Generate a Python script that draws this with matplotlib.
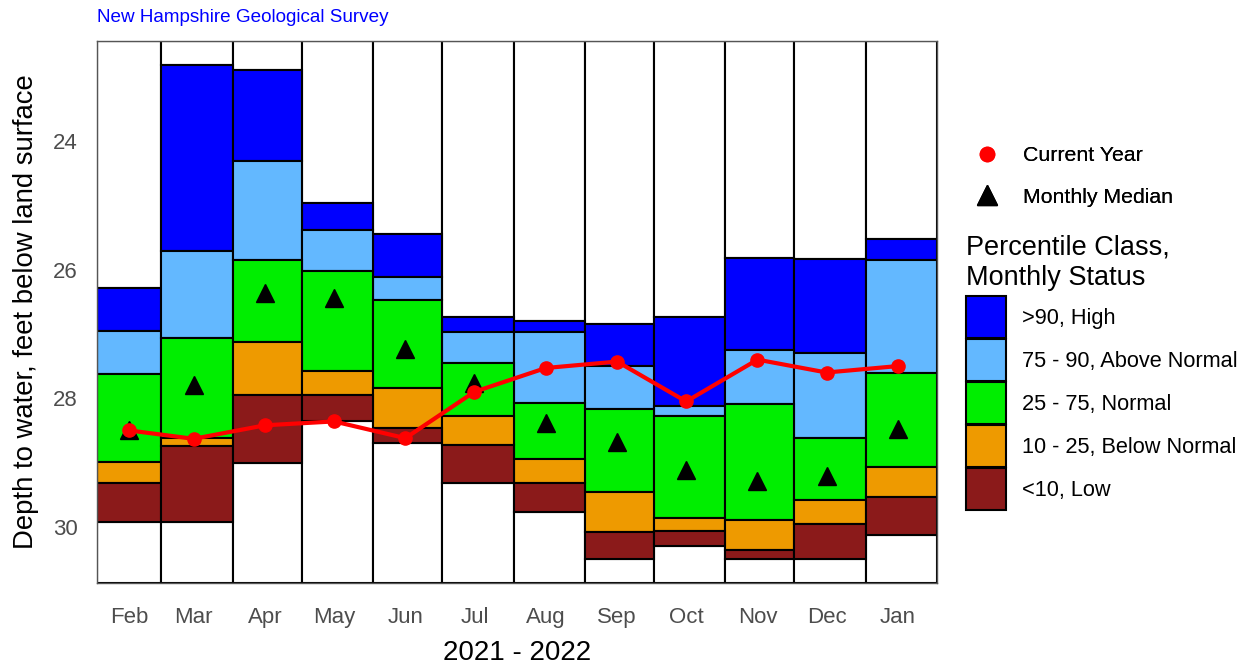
import pandas as pd
import matplotlib.pyplot as plt
import matplotlib.dates as mdates
from matplotlib.lines import Line2D
from matplotlib.patches import Patch

plt.rcParams['font.family'] = ['Liberation Sans', 'DejaVu Sans']

# month labels and monthly percentile boundaries (depth, ft below land surface)
months = ["Feb", "Mar", "Apr", "May", "Jun", "Jul", "Aug", "Sep", "Oct", "Nov", "Dec", "Jan"]
p_max = [26.28, 22.83, 22.90, 24.97, 25.45, 26.74, 26.80, 26.84, 26.73, 25.82, 25.84, 25.52]
p90 = [26.95, 25.72, 24.31, 25.38, 26.12, 26.97, 26.97, 27.50, 28.12, 27.25, 27.30, 25.85]
p75 = [27.62, 27.07, 25.85, 26.03, 26.48, 27.45, 28.07, 28.17, 28.28, 28.09, 28.61, 27.60]
p25 = [28.99, 28.61, 27.13, 27.57, 27.84, 28.28, 28.95, 29.45, 29.86, 29.89, 29.58, 29.07]
p10 = [29.31, 28.74, 27.95, 27.95, 28.46, 28.72, 29.32, 30.08, 30.06, 30.36, 29.96, 29.53]
p_min = [29.93, 29.93, 29.01, 28.35, 28.69, 29.31, 29.76, 30.49, 30.30, 30.50, 30.50, 30.12]
median = [28.50, 27.80, 26.36, 26.45, 27.23, 27.76, 28.38, 28.68, 29.12, 29.28, 29.21, 28.48]
current = [28.50, 28.63, 28.42, 28.36, 28.62, 27.90, 27.53, 27.43, 28.05, 27.40, 27.60, 27.50]

y_top = 22.45
y_bottom = 30.87

starts = pd.date_range("2021-02-01", periods=13, freq="MS")
x0 = mdates.date2num(starts[:-1])
widths = mdates.date2num(starts[1:]) - x0
mid = mdates.date2num(starts[:-1] + pd.Timedelta(days=14))

classes = [
    (p_max, p90, "#0000FF", ">90, High"),
    (p90, p75, "#63B8FF", "75 - 90, Above Normal"),
    (p75, p25, "#00EE00", "25 - 75, Normal"),
    (p25, p10, "#EE9A00", "10 - 25, Below Normal"),
    (p10, p_min, "#8B1A1A", "<10, Low"),
]

W, H = 1251, 666
fig = plt.figure(figsize=(W/100, H/100), dpi=100)
ax = fig.add_axes([97/W, 1 - 583/H, 840/W, 542/H])

edge = dict(edgecolor="black", linewidth=1.5, align="edge")

# white boxes above and below the percentile range
ax.bar(x0, [a - y_top for a in p_max], widths, bottom=y_top, color="white", **edge)
ax.bar(x0, [y_bottom - b for b in p_min], widths, bottom=p_min, color="white", **edge)

for top, bot, col, lab in classes:
    ax.bar(x0, [b - a for a, b in zip(top, bot)], widths, bottom=top, color=col, **edge)

ax.plot(mid, median, linestyle="none", marker="^", color="black", markersize=13.5, zorder=4)
ax.plot(mid, current, color="red", linewidth=3, marker="o", markersize=9.5, zorder=5)

ax.set_xlim(x0[0], x0[-1] + widths[-1])
ax.set_ylim(y_bottom, y_top)
ax.set_xticks(mid)
ax.set_xticklabels(months)
ax.set_yticks([24, 26, 28, 30])
ax.tick_params(length=0, labelsize=16, labelcolor="#4D4D4D")
ax.tick_params(axis="x", pad=17)
ax.tick_params(axis="y", pad=14)
for s in ax.spines.values():
    s.set_color("#555555")
    s.set_linewidth(1.0)

ax.set_ylabel("Depth to water, feet below land surface", fontsize=19.8, labelpad=10)
ax.set_xlabel("2021 - 2022", fontsize=20, labelpad=9)

fig.text(97/W, 1 - 17/H, "New Hampshire Geological Survey", color="blue",
         fontsize=13.6, va="center", ha="left")

# legends
pt_handles = [
    Line2D([], [], linestyle="none", marker="o", color="red", markersize=10.3),
    Line2D([], [], linestyle="none", marker="^", color="black", markersize=13.7),
]
leg1 = fig.legend(pt_handles, ["Current Year", "Monthly Median"], loc="upper left",
                  bbox_to_anchor=(963/W, 1 - 146/H), frameon=False, fontsize=15.3,
                  handlelength=2.25, handletextpad=0.57, labelspacing=1.06,
                  borderpad=0, borderaxespad=0)

fig.text(966/W, 1 - 255/H, "Percentile Class,", fontsize=19.5, va="baseline", ha="left")
fig.text(966/W, 1 - 285/H, "Monthly Status", fontsize=19.5, va="baseline", ha="left")

box_handles = [Patch(facecolor=c[2], edgecolor="black", linewidth=1.5) for c in classes]
leg2 = fig.legend(box_handles, [c[3] for c in classes], loc="upper left",
                  bbox_to_anchor=(966/W, 1 - 296/H), frameon=False, fontsize=15.7,
                  handlelength=1.835, handleheight=2.61, handletextpad=0.73,
                  labelspacing=0.03, borderpad=0, borderaxespad=0)
fig.add_artist(leg1)

fig.savefig("out.png", dpi=100)
